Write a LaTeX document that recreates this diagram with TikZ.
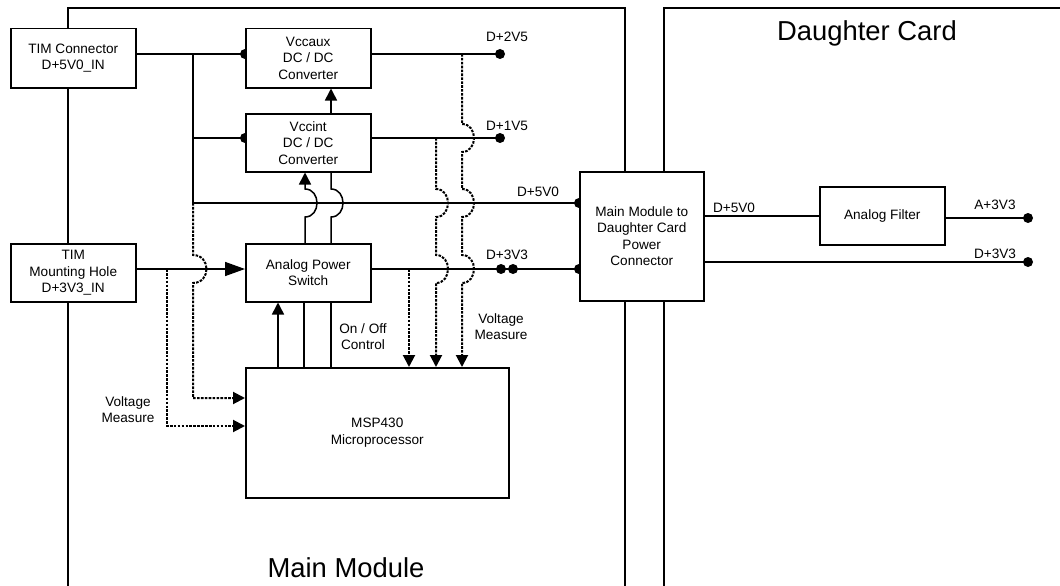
\documentclass[tikz,border=0pt]{standalone}
\usepackage{fontspec}
\setmainfont{Liberation Sans}
\usetikzlibrary{arrows.meta}
\begin{document}
\begin{tikzpicture}[x=1pt,y=-1pt,line width=1.5pt,
  box/.style={draw,fill=white,inner sep=0pt,align=center,anchor=north west,font=\fontsize{13.6}{16.5}\selectfont},
  lbl/.style={inner sep=0pt,align=center,font=\fontsize{13.6}{16.5}\selectfont},
  big/.style={inner sep=0pt,font=\fontsize{27.4}{30}\selectfont},
  arr/.style={-{Triangle[length=12pt,width=12pt]}},
  arrlong/.style={-{Triangle[length=20pt,width=14pt]}},
  dots/.style={dash pattern=on 2.6pt off 1.3pt,line width=2pt}]
\clip (0,0) rectangle (1060,586);
\fill[white] (0,0) rectangle (1060,586);
% frames
\draw (68,600) -- (68,8) -- (625,8) -- (625,600);
\draw (664,600) -- (664,8) -- (1075,8);
% junction coordinates
\coordinate (pA) at (245,54);
\coordinate (pB) at (245,138);
\coordinate (pC) at (579,203);
\coordinate (pD) at (579,269);
\coordinate (pE) at (245,269);
\coordinate (b1) at (193,54);
\coordinate (b2) at (193,138);
\coordinate (b3) at (193,203);
\coordinate (xa) at (305,0);
\coordinate (xb) at (331,0);
\coordinate (o25) at (500,54);
\coordinate (o15) at (500,138);
\coordinate (o33a) at (501,269);
\coordinate (o33b) at (513,269);
\coordinate (oa) at (1028,218);
\coordinate (od) at (1028,262);
% half dots (covered by boxes)
\foreach \p in {pA,pB,pC,pD} \fill (\p) circle[radius=5];
% boxes
\node[box,minimum width=125pt,minimum height=59pt] (timc) at (10,28) {TIM Connector\\D+5V0\_IN};
\node[box,minimum width=125pt,minimum height=58pt] (timh) at (10,243) {TIM\\Mounting Hole\\D+3V3\_IN};
\node[box,minimum width=125pt,minimum height=59pt] (vccaux) at (245,28) {Vccaux\\DC / DC\\Converter};
\node[box,minimum width=125pt,minimum height=58pt] (vccint) at (245,113) {Vccint\\DC / DC\\Converter};
\node[box,minimum width=125pt,minimum height=58pt] (aps) at (245,243) {Analog Power\\Switch};
\node[box,minimum width=263pt,minimum height=130pt] (msp) at (245,367) {MSP430\\Microprocessor};
\node[box,minimum width=124pt,minimum height=129pt] (conn) at (579,171) {Main Module to\\Daughter Card\\Power\\Connector};
\node[box,minimum width=125pt,minimum height=58pt] (filt) at (819,186) {Analog Filter};
% power lines
\draw (timc.east |- pA) -- (pA);
\draw (b1) -- (b3) -- (pC);
\draw (b2) -- (pB);
\draw (vccaux.east |- o25) -- (o25);
\draw (vccint.east |- o15) -- (o15);
\draw (aps.east |- pD) -- (pD);
\draw[arrlong] (timh.east |- pE) -- (pE);
\foreach \p in {o25,o15,o33a,o33b,oa,od} \fill (\p) circle[radius=5];
% APS <-> Vccint with hops
\draw[arr] (xa |- aps.north) -- ++(0,-26) .. controls +(16,0) and +(16,0) .. ++(0,-28) -- (xa |- vccint.south);
\draw (xb |- aps.north) -- ++(0,-26) .. controls +(16,0) and +(16,0) .. ++(0,-28) -- (xb |- vccint.south);
\draw[arr] (xb |- vccint.north) -- (xb |- vccaux.south);
% MSP -> APS
\draw[arr] (278,0 |- msp.north) -- (278,0 |- aps.south);
\draw (304,0 |- msp.north) -- (304,0 |- aps.south);
\draw (331,0 |- msp.north) -- (331,0 |- aps.south);
% dotted voltage measure lines
\draw[dots,arr] (b3) -- (193,255) .. controls +(18,0) and +(18,0) .. (193,283) -- (193,398) -- (msp.west |- 0,398);
\draw[dots,arr] (167,0 |- pE) -- (167,426) -- (msp.west |- 0,426);
\draw[dots,arr] (409,0 |- pD) -- (409,0 |- msp.north);
\draw[dots,arr] (436,0 |- o15) -- (436,189) .. controls +(16,0) and +(16,0) .. (436,217)
  -- (436,255) .. controls +(16,0) and +(16,0) .. (436,283) -- (436,0 |- msp.north);
\draw[dots,arr] (462,0 |- o25) -- (462,124) .. controls +(16,0) and +(16,0) .. (462,152)
  -- (462,189) .. controls +(16,0) and +(16,0) .. (462,217)
  -- (462,255) .. controls +(16,0) and +(16,0) .. (462,283) -- (462,0 |- msp.north);
% daughter card lines
\draw (conn.east |- filt.west) -- (filt.west);
\draw (filt.east |- oa) -- (oa);
\draw (conn.east |- od) -- (od);
% labels
\node[lbl] (l25) at (507,37) {D+2V5};
\node[lbl] (l15) at (507,126) {D+1V5};
\node[lbl] (l50) at (538,192) {D+5V0};
\node[lbl] (l33) at (507,255) {D+3V3};
\node[lbl] (vmr) at (501,326.5) {Voltage\\Measure};
\node[lbl] (onoff) at (363,336.5) {On / Off\\Control};
\node[lbl] (vml) at (128,409.5) {Voltage\\Measure};
\node[lbl] (r50) at (734,208) {D+5V0};
\node[lbl] (ra33) at (995,205) {A+3V3};
\node[lbl] (rd33) at (995,254) {D+3V3};
\node[big] (mm) at (346,568) {Main Module};
\node[big] (dc) at (867,33) {Daughter Card};
\end{tikzpicture}
\end{document}
